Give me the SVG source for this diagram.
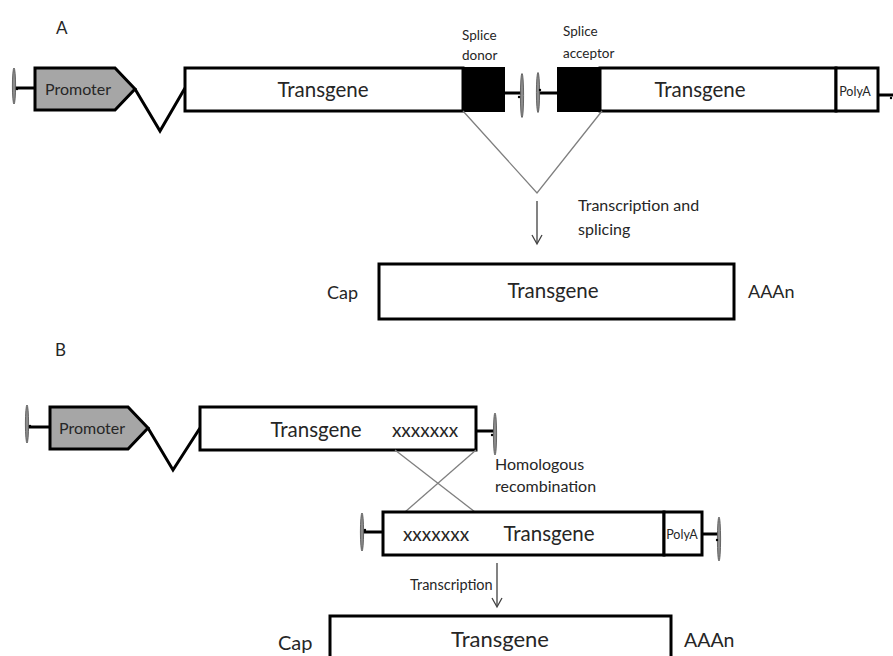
<svg xmlns="http://www.w3.org/2000/svg" width="893" height="656" viewBox="0 0 893 656">
  <style>
    .box { fill: #fff; stroke: #000; stroke-width: 3; }
    .blk { fill: #000; stroke: #000; stroke-width: 2; }
    .prom { fill: #a6a6a6; stroke: #000; stroke-width: 3; stroke-linejoin: miter; }
    .wire { fill: none; stroke: #000; stroke-width: 3; }
    .thin { fill: none; stroke: #7f7f7f; stroke-width: 1.3; }
    .arr { fill: none; stroke: #404040; stroke-width: 1.3; }
    .ins { fill: #8c8c8c; stroke: #5a5a5a; stroke-width: 0.9; }
    text { font-family: Lato, "Open Sans", "Liberation Sans", sans-serif; fill: #262626; }
    .big { font-size: 20.5px; }
    .mid { font-size: 16px; }
    .sm { font-size: 13.5px; }
    .pa { font-size: 12.5px; }
    .lbl { font-size: 18px; }
    .xx { font-size: 19px; }
  </style>

  <!-- Panel A -->
  <text class="lbl" x="56" y="34" style="font-size:17px">A</text>

  <g id="a-insulator-left">
    <line class="wire" x1="14" y1="88" x2="36" y2="88"/>
    <ellipse class="ins" cx="14" cy="86" rx="1.6" ry="18"/>
    <circle cx="17" cy="89" r="1.2" fill="#000"/>
  </g>

  <g id="a-promoter">
    <polygon class="prom" points="35,68 115,68 135,89 115,110 35,110"/>
    <text class="mid" x="45" y="95">Promoter</text>
  </g>

  <g id="a-intron">
    <polyline class="wire" points="135,89 160,131 185,88"/>
  </g>

  <g id="a-transgene-1">
    <rect class="box" x="185" y="68" width="278" height="43"/>
    <text class="big" x="323" y="97" text-anchor="middle">Transgene</text>
  </g>

  <g id="a-splice-donor">
    <rect class="blk" x="463" y="68" width="41" height="43"/>
    <text class="sm" x="462" y="40">Splice</text>
    <text class="sm" x="462" y="60">donor</text>
  </g>

  <g id="a-insulator-mid-1">
    <line class="wire" x1="504" y1="93" x2="521" y2="93"/>
    <ellipse class="ins" cx="522" cy="95.5" rx="1.6" ry="22"/>
    <circle cx="519" cy="97" r="1.2" fill="#000"/>
  </g>

  <g id="a-insulator-mid-2">
    <line class="wire" x1="538" y1="93" x2="558" y2="93"/>
    <ellipse class="ins" cx="538" cy="92.5" rx="1.6" ry="20"/>
    <circle cx="540" cy="90" r="1.2" fill="#000"/>
  </g>

  <g id="a-splice-acceptor">
    <rect class="blk" x="558" y="68" width="42" height="43"/>
    <text class="sm" x="563" y="36">Splice</text>
    <text class="sm" x="563" y="58">acceptor</text>
  </g>

  <g id="a-transgene-2">
    <rect class="box" x="600" y="68" width="236" height="43"/>
    <text class="big" x="700" y="97" text-anchor="middle">Transgene</text>
  </g>

  <g id="a-polya">
    <rect class="box" x="836" y="68" width="42" height="43"/>
    <text class="pa" x="855" y="96" text-anchor="middle">PolyA</text>
    <line class="wire" x1="878" y1="95" x2="893" y2="95"/>
    <circle cx="891" cy="98" r="1.2" fill="#000"/>
  </g>

  <g id="a-connectors">
    <polyline class="thin" points="463,111 537,193 602,111"/>
    <line class="arr" x1="537" y1="201" x2="537" y2="243"/>
    <polyline class="arr" points="532,235 537,244 542,235"/>
  </g>

  <text class="mid" x="578" y="211">Transcription and</text>
  <text class="mid" x="578" y="235">splicing</text>

  <g id="a-mrna">
    <rect class="box" x="379" y="264" width="355" height="55"/>
    <text class="big" x="553" y="298" text-anchor="middle">Transgene</text>
    <text class="lbl" x="327" y="299">Cap</text>
    <text class="lbl" x="748" y="298">AAAn</text>
  </g>

  <!-- Panel B -->
  <text class="lbl" x="55" y="356" style="font-size:17px">B</text>

  <g id="b-insulator-left">
    <line class="wire" x1="27" y1="427" x2="50" y2="427"/>
    <ellipse class="ins" cx="27" cy="424" rx="1.6" ry="19"/>
    <circle cx="30" cy="426" r="1.2" fill="#000"/>
  </g>

  <g id="b-promoter">
    <polygon class="prom" points="50,407 128,407 148,428 128,449 50,449"/>
    <text class="mid" x="59" y="434">Promoter</text>
  </g>

  <g id="b-intron">
    <polyline class="wire" points="148,428 173,470 200,428"/>
  </g>

  <g id="b-transgene-1">
    <rect class="box" x="200" y="407" width="276" height="43"/>
    <text class="big" x="316" y="437" text-anchor="middle">Transgene</text>
    <text class="xx" x="425" y="437" text-anchor="middle">xxxxxxx</text>
  </g>

  <g id="b-insulator-right">
    <line class="wire" x1="476" y1="431" x2="495" y2="431"/>
    <ellipse class="ins" cx="495" cy="434" rx="1.6" ry="21"/>
    <circle cx="492" cy="435" r="1.2" fill="#000"/>
  </g>

  <g id="b-crossover">
    <line class="thin" x1="395" y1="450" x2="475" y2="512"/>
    <line class="thin" x1="476" y1="450" x2="405" y2="512"/>
  </g>

  <text class="mid" x="495" y="470">Homologous</text>
  <text class="mid" x="495" y="492">recombination</text>

  <g id="b-insulator-donor">
    <line class="wire" x1="362" y1="532" x2="383" y2="532"/>
    <ellipse class="ins" cx="362" cy="532" rx="1.6" ry="19"/>
    <circle cx="365" cy="530" r="1.2" fill="#000"/>
  </g>

  <g id="b-transgene-2">
    <rect class="box" x="383" y="512" width="281" height="43"/>
    <text class="xx" x="436" y="541" text-anchor="middle">xxxxxxx</text>
    <text class="big" x="549" y="541" text-anchor="middle">Transgene</text>
  </g>

  <g id="b-polya">
    <rect class="box" x="664" y="512" width="38" height="43"/>
    <text class="pa" x="682" y="539" text-anchor="middle">PolyA</text>
  </g>

  <g id="b-insulator-end">
    <line class="wire" x1="702" y1="534" x2="718" y2="534"/>
    <ellipse class="ins" cx="719" cy="539" rx="1.6" ry="22"/>
    <circle cx="717" cy="540" r="1.2" fill="#000"/>
  </g>

  <g id="b-connectors">
    <line class="arr" x1="497" y1="563" x2="497" y2="606"/>
    <polyline class="arr" points="492,598 497,607 502,598"/>
  </g>

  <text class="mid" x="410" y="590" style="font-size:14.5px">Transcription</text>

  <g id="b-mrna">
    <rect class="box" x="330" y="616" width="341" height="50"/>
    <text class="big" x="500" y="647" text-anchor="middle" style="font-size:22px">Transgene</text>
    <text class="lbl" x="278" y="650" style="font-size:20px">Cap</text>
    <text class="lbl" x="684" y="647" style="font-size:19.5px">AAAn</text>
  </g>
</svg>
